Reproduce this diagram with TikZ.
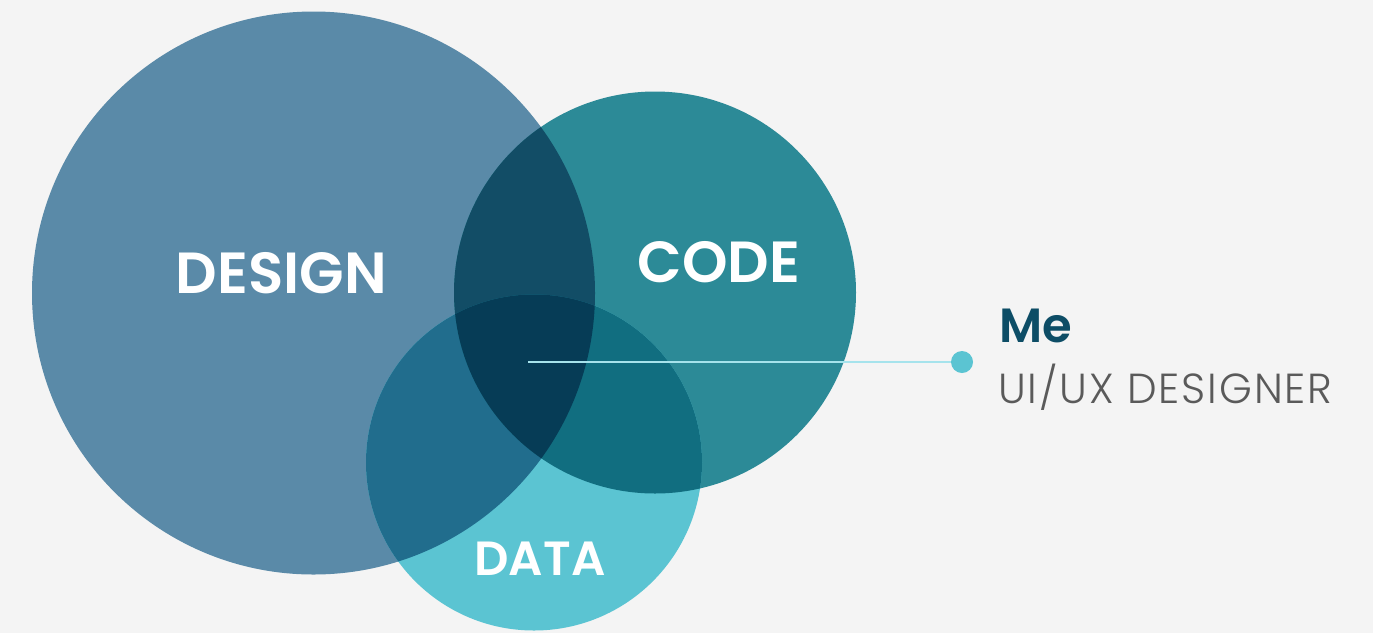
\documentclass[tikz,border=0pt]{standalone}
\usepackage{fontspec}
\setmainfont{Poppins}
\newfontfamily\semib{Poppins SemiBold}
\newfontfamily\lightf[LetterSpace=4.5]{Poppins Light}
\definecolor{bg}{HTML}{F4F4F4}
\definecolor{cdesign}{HTML}{5A8AA8}
\definecolor{ccode}{HTML}{2C8A97}
\definecolor{cdata}{HTML}{5BC4D2}
\definecolor{cdc}{HTML}{124D66}
\definecolor{cdd}{HTML}{216D8D}
\definecolor{ccd}{HTML}{116E80}
\definecolor{call}{HTML}{063C56}
\definecolor{cline}{HTML}{A6E3EC}
\definecolor{cme}{HTML}{0D4D66}
\definecolor{cgray}{HTML}{5A5A5A}
\begin{document}
\begin{tikzpicture}[x=1pt,y=-1pt,
  lbl/.style={text=white,font=\semib\fontsize{58}{60}\selectfont,anchor=base,inner sep=0pt}]
\fill[bg] (0,0) rectangle (1373,633);
\useasboundingbox (0,0) rectangle (1373,633);
\coordinate (cD) at (313.5,293);
\coordinate (cC) at (655,292.5);
\coordinate (cT) at (534,462.5);
\def\rD{281.5}\def\rC{201}\def\rT{168}
\fill[cdesign] (cD) circle (\rD);
\fill[ccode] (cC) circle (\rC);
\fill[cdata] (cT) circle (\rT);
\begin{scope}\clip (cD) circle (\rD); \fill[cdc] (cC) circle (\rC);\end{scope}
\begin{scope}\clip (cD) circle (\rD); \fill[cdd] (cT) circle (\rT);\end{scope}
\begin{scope}\clip (cC) circle (\rC); \fill[ccd] (cT) circle (\rT);\end{scope}
\begin{scope}\clip (cD) circle (\rD); \clip (cC) circle (\rC); \fill[call] (cT) circle (\rT);\end{scope}
\node[lbl] (design) at (281.5,293) {DESIGN};
\node[lbl] (code) at (719,282) {CODE};
\node[lbl,font=\semib\fontsize{48}{50}\selectfont] (data) at (540,575) {DATA};
\coordinate (start) at (528,362);
\node[circle,fill=cdata,minimum size=22pt,inner sep=0pt] (dot) at (962,362) {};
\draw[cline,line width=2.5pt] (start) -- (dot);
\node[anchor=base west,inner sep=0pt,text=cme,font=\semib\fontsize{48}{50}\selectfont] (me) at (999,342) {Me};
\node[anchor=base west,inner sep=0pt,text=cgray,font=\lightf\fontsize{42}{44}\selectfont] (role) at (998,403) {UI/UX DESIGNER};
\end{tikzpicture}
\end{document}
